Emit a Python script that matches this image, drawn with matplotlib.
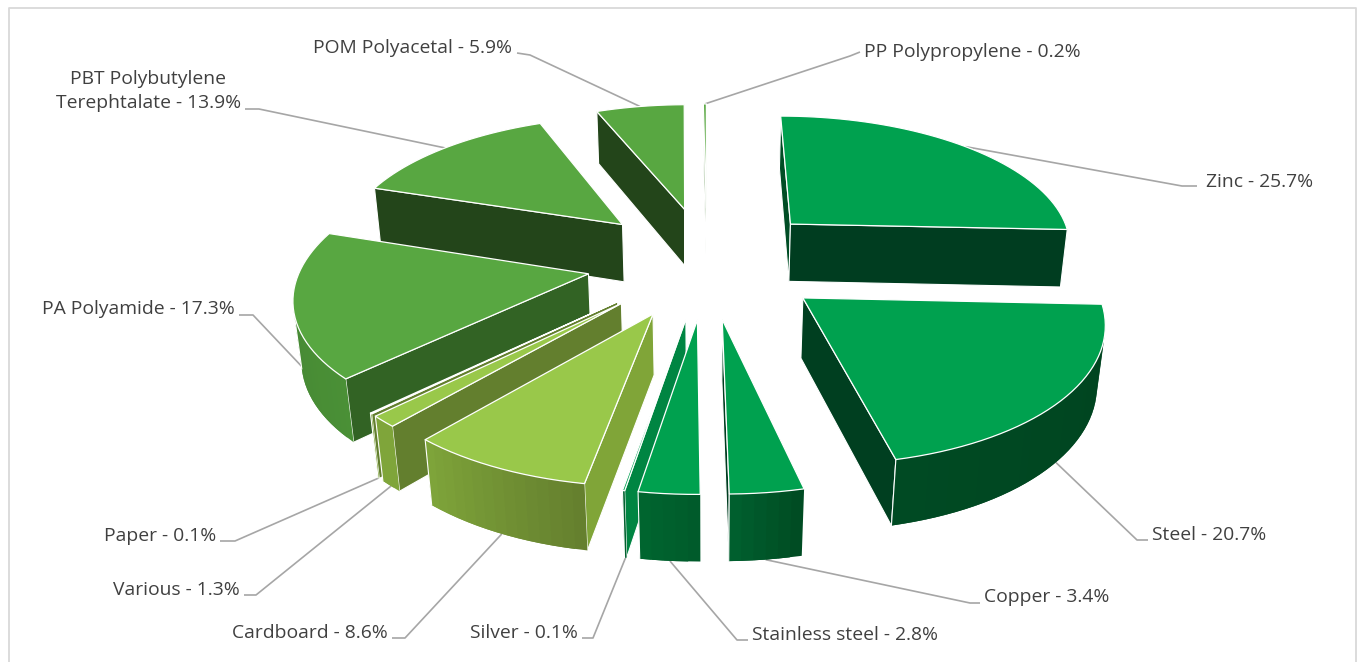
import numpy as np
import matplotlib
matplotlib.use("Agg")
import matplotlib.pyplot as plt
from matplotlib.patches import Polygon
from matplotlib.colors import to_rgb

# data
labels = ["Zinc", "Steel", "Copper", "Stainless steel", "Silver", "Cardboard", "Various",
          "Paper", "PA Polyamide", "PBT Polybutylene\nTerephtalate", "POM Polyacetal", "PP Polypropylene"]
values = [25.7, 20.7, 3.4, 2.8, 0.1, 8.6, 1.3, 0.1, 17.3, 13.9, 5.9, 0.2]

# styles
top_colors = ["#00A14F"] * 5 + ["#99C84A"] * 3 + ["#58A741"] * 4
start_walls = ["#004D25", "#003F20", "#003D20", "#00602E", "#008542", "#80A538", "#637F2E", "#637F2E",
               "#326324", "#23451A", "#23451A", "#3F7A2C"]
end_walls = ["#003D20", "#003F20", "#003D20", "#008542", "#008542", "#637F2E", "#637F2E", "#637F2E",
             "#326324", "#23451A", "#23451A", "#A9C4A0"]
outer_right = ["#003D20", "#00431F", "#004A22", "#005A2A", "#00602E", "#647F2E", "#7FA53A", "#7FA53A",
               "#4A9036", "#4A9036", "#4A9036", "#4A9036"]
outer_left = ["#003D20", "#004A23", "#00612F", "#00662F", "#00602E", "#7FA53A", "#7FA53A", "#7FA53A",
              "#438232", "#4A9036", "#4A9036", "#4A9036"]

# layout
START = 0.0
EXPLODE = 0.42
CX, CY, FX, GY, PERSP, DROP, SHRINK = 707.0, 261.0, 286.0, 132.3, 0.138, 60.0, 0.02
text_pos = [(1206, 182, "left"), (1152, 535, "left"), (984, 597, "left"), (752, 635, "left"),
            (578, 633, "right"), (388, 633, "right"), (240, 590, "right"), (216, 536, "right"),
            (235, 309, "right"), (241, 91, "right"), (512, 48, "right"), (864, 52, "left")]
elbows = [[(1182, 186), (1197, 186)], [(1137, 540), (1148, 540)], [(970, 603), (980, 603)],
          [(737, 640), (748, 640)], [(593, 638), (582, 638)], [(405, 638), (392, 638)],
          [(256, 595), (244, 595)], [(235, 541), (220, 541)], [(253, 315), (239, 315)],
          [(259, 109), (245, 109)], [(530, 55), (517, 53)], [(850, 56), (860, 52)]]
on_base = [False, True, True, True, True, True, True, True, True, False, False, False]


def project(X, Y, z=0.0):
    s = 1.0 / (1.0 + PERSP * Y + SHRINK * z)
    return CX + FX * X * s, CY - GY * Y * s + DROP * z * s


def area(q):
    q = np.asarray(q)
    x, y = q[:, 0], q[:, 1]
    return np.sum(x * np.roll(y, -1) - np.roll(x, -1) * y)


fig = plt.figure(figsize=(13.57, 6.62), dpi=100)
ax = fig.add_axes([0, 0, 1, 1])
ax.set_xlim(0, 1357)
ax.set_ylim(662, 0)
ax.axis("off")
plt.rcParams["font.family"] = ["Open Sans", "DejaVu Sans"]

# chart frame
ax.plot([8.5, 8.5, 1356, 1356], [662, 8, 8, 662], color="#D9D9D9", lw=1.3, zorder=0)

edges = START + np.concatenate([[0], np.cumsum(values)]) * 360.0 / sum(values)
mids = (edges[:-1] + edges[1:]) / 2


def offset(i):
    m = np.radians(mids[i])
    return EXPLODE * np.sin(m), EXPLODE * np.cos(m)


order = sorted(range(len(values)), key=lambda i: -np.cos(np.radians(mids[i])))
z = 5
for i in order:
    ox, oy = offset(i)
    n = max(3, int((edges[i + 1] - edges[i]) / 2))
    ang = np.radians(np.linspace(edges[i], edges[i + 1], n + 1))
    rim = [(ox + np.sin(a), oy + np.cos(a)) for a in ang]
    apex = (ox, oy)
    ring = [apex] + rim
    # radial walls
    for a, b, col in [(apex, rim[0], start_walls[i]), (rim[-1], apex, end_walls[i])]:
        q = [project(*a), project(*b), project(*b, 1), project(*a, 1)]
        if area(q) < 0:
            ax.add_patch(Polygon(q, closed=True, fc=col, ec="white", lw=0.8, zorder=z))
            z += 1
    # outer wall with a horizontal gradient; each strip overlaps the next to hide seams
    vis = []
    for k in range(n):
        q = [project(*rim[k]), project(*rim[k + 1]), project(*rim[k + 1], 1), project(*rim[k], 1)]
        if area(q) < 0:
            e = min(k + 2, n)
            q2 = [project(*rim[k]), project(*rim[e]), project(*rim[e], 1), project(*rim[k], 1)]
            t = (k + 0.5) / n
            c = (1 - t) * np.array(to_rgb(outer_right[i])) + t * np.array(to_rgb(outer_left[i]))
            ax.add_patch(Polygon(q2, closed=True, fc=c, ec="none", zorder=z))
            z += 1
            vis.append(k)
    if vis:
        ax.plot(*zip(project(*rim[vis[-1] + 1]), project(*rim[vis[-1] + 1], 1)), color="white", lw=0.8, zorder=z)
    # top face
    ax.add_patch(Polygon([project(*p) for p in ring], closed=True, fc=top_colors[i], ec="white", lw=0.9, zorder=z + 1))
    z += 2

# leaders and labels
for i, lab in enumerate(labels):
    ox, oy = offset(i)
    m = np.radians(mids[i])
    sx, sy = project(ox + np.sin(m), oy + np.cos(m), 1 if on_base[i] else 0)
    pts = [(sx, sy)] + elbows[i]
    ax.plot(*zip(*pts), color="#A6A6A6", lw=1.2, zorder=2, solid_capstyle="butt")
    x, y, ha = text_pos[i]
    ax.text(x, y, f"{lab} - {values[i]}%", ha=ha, va="center", fontsize=13.9, color="#404040",
            linespacing=1.42, multialignment="center", zorder=3)

fig.savefig("out.png", dpi=100, facecolor="white")
